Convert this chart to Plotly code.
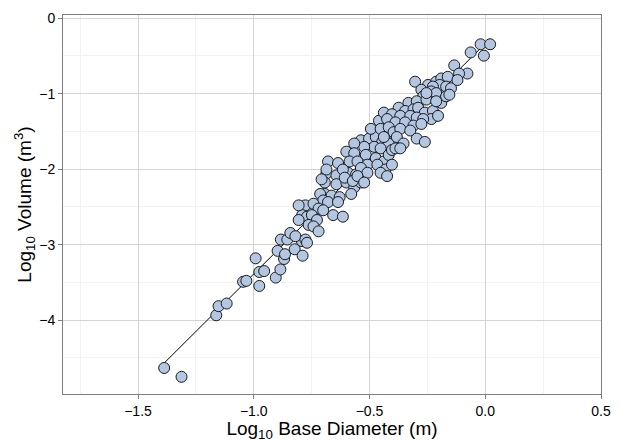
import numpy as np
import plotly.graph_objects as go

# Log10 base diameter (m)
log_diameter = [
    -1.387, -1.312, -1.162, -1.152, -1.117, -1.046, -1.032, -0.992, -0.976, -0.976,
    -0.955, -0.905, -0.885, -0.897, -0.869, -0.865, -0.883, -0.855, -0.842, -0.823,
    -0.789, -0.792,
    -0.686, -0.643, -0.593, -0.558, -0.693, -0.643, -0.600, -0.566, -0.537, -0.693,
    -0.664, -0.629, -0.579, -0.713, -0.700, -0.679, -0.636, -0.777, -0.742, -0.720,
    -0.700, -0.657, -0.615, -0.791, -0.770, -0.749, -0.727, -0.806, -0.763, -0.742,
    -0.720, -0.820, -0.777, -0.770, -0.806,
    -0.459, -0.417, -0.431, -0.403, -0.537, -0.502, -0.473, -0.445, -0.417, -0.480,
    -0.452, -0.523, -0.566, -0.600, -0.566, -0.516, -0.473, -0.438, -0.417, -0.403,
    -0.679, -0.636, -0.586, -0.552, -0.509, -0.466, -0.431, -0.403, -0.686, -0.615,
    -0.537, -0.509, -0.452, -0.424, -0.707, -0.607, -0.572, -0.552, -0.523,
    -0.303, -0.247, -0.212, -0.190, -0.218, -0.197, -0.276, -0.268, -0.240, -0.204,
    -0.190, -0.332, -0.296, -0.254, -0.374, -0.346, -0.310, -0.290, -0.261, -0.226,
    -0.233, -0.204, -0.438, -0.403, -0.367, -0.324, -0.296, -0.268, -0.424, -0.388,
    -0.346, -0.310, -0.276, -0.494, -0.452, -0.417, -0.396, -0.367, -0.324, -0.296,
    -0.261, -0.438, -0.382, -0.353, -0.388, -0.367,
    -0.020, 0.021, -0.006, -0.063, -0.134, -0.077, -0.113, -0.162, -0.197, -0.169,
    -0.148, -0.120, -0.226, -0.233, -0.212, -0.254, -0.169, -0.155, -0.212,
]

# Log10 volume (m^3)
log_volume = [
    -4.635, -4.752, -3.937, -3.816, -3.781, -3.493, -3.480, -3.182, -3.548, -3.363,
    -3.351, -3.437, -3.329, -3.083, -3.191, -3.127, -2.933, -2.933, -2.846, -3.062,
    -3.147, -2.953,
    -2.057, -2.083, -2.048, -2.070, -2.177, -2.199, -2.177, -2.242, -2.177, -2.329,
    -2.351, -2.371, -2.329, -2.329, -2.415, -2.436, -2.436, -2.480, -2.458, -2.523,
    -2.545, -2.609, -2.630, -2.609, -2.630, -2.609, -2.674, -2.674, -2.739, -2.759,
    -2.824, -2.889, -2.933, -2.976, -2.480,
    -1.358, -1.380, -1.466, -1.530, -1.617, -1.595, -1.574, -1.639, -1.660, -1.704,
    -1.725, -1.704, -1.660, -1.768, -1.789, -1.811, -1.854, -1.898, -1.811, -1.746,
    -1.898, -1.919, -1.898, -1.898, -1.941, -1.941, -2.005, -1.941, -2.005, -2.005,
    -1.984, -2.048, -2.048, -2.092, -2.135, -2.113, -2.157, -2.092, -2.177,
    -0.841, -0.884, -0.841, -0.798, -0.928, -0.970, -0.948, -1.035, -1.057, -1.057,
    -1.122, -1.122, -1.100, -1.078, -1.186, -1.229, -1.207, -1.186, -1.251, -1.229,
    -1.336, -1.294, -1.251, -1.272, -1.294, -1.294, -1.316, -1.336, -1.336, -1.380,
    -1.380, -1.423, -1.401, -1.466, -1.466, -1.445, -1.510, -1.466, -1.488, -1.595,
    -1.639, -1.574, -1.574, -1.660, -1.725, -1.724,
    -0.345, -0.345, -0.496, -0.453, -0.625, -0.733, -0.733, -0.776, -0.884, -0.906,
    -0.928, -0.819, -0.906, -0.970, -0.992, -0.992, -1.035, -1.013, -1.100,
]

x_ticks = [-1.5, -1.0, -0.5, 0.0, 0.5]
x_tick_labels = ["−1.5", "−1.0", "−0.5", "0.0", "0.5"]
y_ticks = [0, -1, -2, -3, -4]
y_tick_labels = ["0", "−1", "−2", "−3", "−4"]

x_arr = np.array(log_diameter)
y_arr = np.array(log_volume)
slope, intercept = np.polyfit(x_arr, y_arr, 1)
fit_x = np.array([x_arr.min(), x_arr.max()])
fit_y = slope * fit_x + intercept

fig = go.Figure()
fig.add_trace(go.Scatter(
    x=fit_x, y=fit_y, mode="lines",
    line=dict(color="black", width=1), showlegend=False, hoverinfo="skip",
))
fig.add_trace(go.Scatter(
    x=log_diameter, y=log_volume, mode="markers",
    marker=dict(size=11, color="#b3c7e3", line=dict(color="#1a1a1a", width=1)),
    showlegend=False,
))

font_family = "Liberation Sans, Arial, Helvetica, sans-serif"
axis_common = dict(
    showline=True, linecolor="#7f7f7f", linewidth=1, mirror=True,
    showgrid=True, gridcolor="#d4d4d4", gridwidth=1,
    zeroline=False,
    ticks="outside", ticklen=4, tickcolor="#7f7f7f",
    tickfont=dict(family=font_family, size=14, color="black"),
)

fig.update_layout(
    width=621, height=442,
    margin=dict(l=63, r=10, t=12, b=42),
    paper_bgcolor="white", plot_bgcolor="white",
    font=dict(family=font_family, color="black"),
    xaxis=dict(
        range=[-1.824, 0.5],
        tickvals=x_ticks, ticktext=x_tick_labels,
        minor=dict(tickvals=[-1.75, -1.25, -0.75, -0.25, 0.25],
                   showgrid=True, gridcolor="#f2f2f2", ticks=""),
        title=dict(text="Log<sub>10</sub> Base Diameter (m)",
                   font=dict(family=font_family, size=19, color="black"),
                   standoff=0),
        **axis_common,
    ),
    yaxis=dict(
        range=[-4.98, 0.043],
        tickvals=y_ticks, ticktext=y_tick_labels,
        minor=dict(tickvals=[-0.5, -1.5, -2.5, -3.5, -4.5],
                   showgrid=True, gridcolor="#f2f2f2", ticks=""),
        title=dict(text="Log<sub>10</sub> Volume (m<sup>3</sup>)",
                   font=dict(family=font_family, size=19, color="black"),
                   standoff=2),
        **axis_common,
    ),
)

fig.write_html(
    "out.html",
    config={"displayModeBar": False},
    post_script=(
        "document.documentElement.style.margin='0';"
        "document.documentElement.style.overflow='hidden';"
        "document.body.style.margin='0';"
        "document.body.style.overflow='hidden';"
    ),
)
